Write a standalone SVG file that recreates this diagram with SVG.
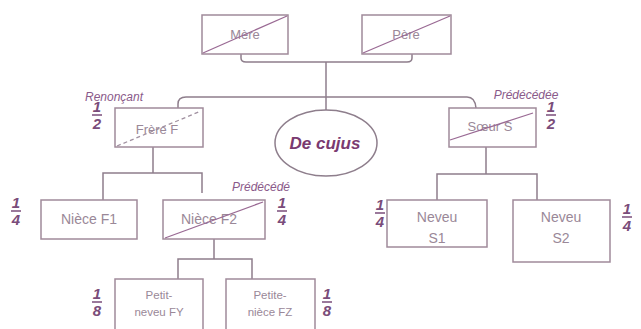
<svg xmlns="http://www.w3.org/2000/svg" width="641" height="329" viewBox="0 0 641 329">
<style>
.box{fill:#fff;stroke:#a08a9a;stroke-width:1.5}
.lbl{font-family:"Liberation Sans",Arial,sans-serif;font-size:14px;fill:#9a8898;text-anchor:middle}
.sm{font-size:11.5px}
.x{stroke:#9a6a94;stroke-width:1.3;fill:none}
.xd{stroke:#a090a0;stroke-width:1.3;fill:none;stroke-dasharray:4 3}
.con{stroke:#8e7e8c;stroke-width:1.5;fill:none}
.frac{font-family:"Liberation Sans",Arial,sans-serif;font-size:15px;font-weight:bold;font-style:italic;fill:#7a4c7a;text-anchor:middle}
.fl{stroke:#7a4c7a;stroke-width:1.5}
.note{font-family:"Liberation Sans",Arial,sans-serif;font-size:12px;font-style:italic;fill:#8a5a8a;text-anchor:middle}
</style>
<defs>
<g id="f2"><text class="frac" x="0" y="0">1</text><line class="fl" x1="-5" y1="3" x2="5" y2="3"/><text class="frac" x="0" y="17">2</text></g>
<g id="f4"><text class="frac" x="0" y="0">1</text><line class="fl" x1="-5" y1="3" x2="5" y2="3"/><text class="frac" x="0" y="17">4</text></g>
<g id="f8"><text class="frac" x="0" y="0">1</text><line class="fl" x1="-5" y1="3" x2="5" y2="3"/><text class="frac" x="0" y="17">8</text></g>
</defs>
<rect width="641" height="329" fill="#fff"/>
<g id="connectors">
<path class="con" d="M241 54 V58 Q241 62 246 62 H407 Q412 62 412 58 V54"/>
<path class="con" d="M326 62 V110"/>
<path class="con" d="M178 108 V104 Q178 97 186 97 H467 Q475 97 476 108"/>
<path class="con" d="M153 147 V173 M103 200 V173 H202 V193"/>
<path class="con" d="M486 147 V174 M437 200 V174 H537 V200"/>
<path class="con" d="M214 239 V259 M178 279 V259 H252 V279"/>
</g>
<g id="mere"><rect class="box" x="202" y="15" width="86" height="39"/><text class="lbl" x="245" y="39" style="font-size:13px">Mère</text><line class="x" x1="203" y1="53" x2="287" y2="16"/></g>
<g id="pere"><rect class="box" x="362" y="15" width="89" height="39"/><text class="lbl" x="406" y="39" style="font-size:13px">Père</text><line class="x" x1="363" y1="53" x2="450" y2="16"/></g>
<g id="frere"><text class="note" x="114" y="101">Renonçant</text><use href="#f2" x="97" y="112"/><rect class="box" x="115" y="108" width="88" height="39"/><text class="lbl" x="157" y="134" style="font-size:13px">Frère F</text><line class="xd" x1="117" y1="146" x2="201" y2="111"/></g>
<g id="decujus"><ellipse cx="326" cy="143" rx="51" ry="33" fill="#fff" stroke="#8e7e8c" stroke-width="1.5"/><text x="325" y="149" text-anchor="middle" font-family="Liberation Sans,Arial,sans-serif" font-size="17" font-weight="bold" font-style="italic" fill="#7a3a70">De cujus</text></g>
<g id="soeur"><text class="note" x="526" y="99">Prédécédée</text><use href="#f2" x="551" y="112"/><rect class="box" x="449" y="108" width="87" height="39"/><text class="lbl" x="490" y="131" style="font-size:13px">Sœur S</text><line class="x" x1="450" y1="140" x2="533" y2="113"/></g>
<g id="niecef1"><use href="#f4" x="16" y="208"/><rect class="box" x="41" y="200" width="96" height="39"/><text class="lbl" x="89" y="224">Nièce F1</text></g>
<g id="niecef2"><text class="note" x="261" y="191">Prédécédé</text><use href="#f4" x="282" y="208"/><rect class="box" x="163" y="200" width="102" height="39"/><text class="lbl" x="209" y="224">Nièce F2</text><line class="x" x1="165" y1="238" x2="263" y2="202"/></g>
<g id="neveus1"><use href="#f4" x="380" y="210"/><rect class="box" x="387" y="200" width="100" height="47"/><text class="lbl" x="437" y="222">Neveu</text><text class="lbl" x="437" y="243">S1</text></g>
<g id="neveus2"><use href="#f4" x="627" y="214"/><rect class="box" x="513" y="200" width="97" height="62"/><text class="lbl" x="561" y="222">Neveu</text><text class="lbl" x="561" y="243">S2</text></g>
<g id="petitneveu"><use href="#f8" x="97" y="299"/><rect class="box" x="115" y="279" width="88" height="55"/><text class="lbl sm" x="159" y="299">Petit-</text><text class="lbl sm" x="159" y="316">neveu FY</text></g>
<g id="petiteniece"><use href="#f8" x="327" y="299"/><rect class="box" x="226" y="279" width="89" height="55"/><text class="lbl sm" x="270" y="299">Petite-</text><text class="lbl sm" x="270" y="316">nièce FZ</text></g>
</svg>
